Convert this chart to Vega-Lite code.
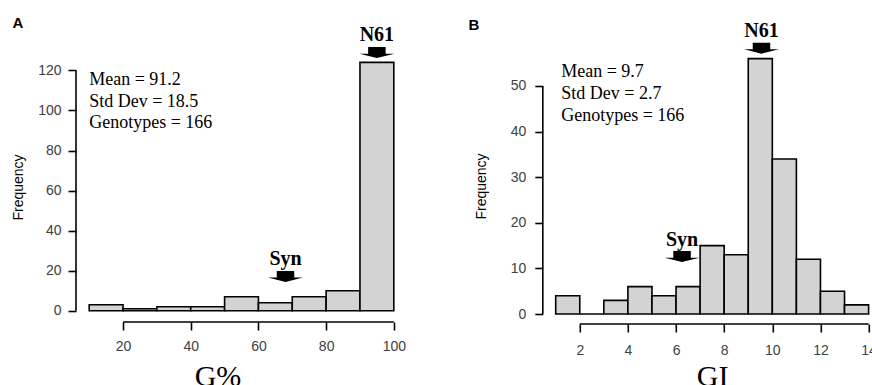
{
  "$schema": "https://vega.github.io/schema/vega-lite/v6.json",
  "background": "white",
  "padding": {"left": 11, "top": 16, "right": 0, "bottom": 0},
  "bounds": "flush",
  "spacing": 136.8,
  "config": {
    "view": {"stroke": null},
    "axis": {
      "domain": false, "grid": false, "tickSize": 8, "tickWidth": 1.6, "tickColor": "black",
      "labelFont": "Liberation Sans", "labelFontSize": 14, "labelColor": "#404040",
      "labelOverlap": false, "labelFlush": false
    }
  },
  "datasets": {
    "histA": [
      {"bin_start": 10, "bin_end": 20, "count": 3},
      {"bin_start": 20, "bin_end": 30, "count": 1},
      {"bin_start": 30, "bin_end": 40, "count": 2},
      {"bin_start": 40, "bin_end": 50, "count": 2},
      {"bin_start": 50, "bin_end": 60, "count": 7},
      {"bin_start": 60, "bin_end": 70, "count": 4},
      {"bin_start": 70, "bin_end": 80, "count": 7},
      {"bin_start": 80, "bin_end": 90, "count": 10},
      {"bin_start": 90, "bin_end": 100, "count": 124}
    ],
    "histB": [
      {"bin_start": 1, "bin_end": 2, "count": 4},
      {"bin_start": 2, "bin_end": 3, "count": 0},
      {"bin_start": 3, "bin_end": 4, "count": 3},
      {"bin_start": 4, "bin_end": 5, "count": 6},
      {"bin_start": 5, "bin_end": 6, "count": 4},
      {"bin_start": 6, "bin_end": 7, "count": 6},
      {"bin_start": 7, "bin_end": 8, "count": 15},
      {"bin_start": 8, "bin_end": 9, "count": 13},
      {"bin_start": 9, "bin_end": 10, "count": 56},
      {"bin_start": 10, "bin_end": 11, "count": 34},
      {"bin_start": 11, "bin_end": 12, "count": 12},
      {"bin_start": 12, "bin_end": 13, "count": 5},
      {"bin_start": 13, "bin_end": 14, "count": 2}
    ],
    "annoA": [
      {"label": "N61", "x": 95, "ty": 134.8, "ay": 128.9},
      {"label": "Syn", "x": 68, "ty": 22.8, "ay": 17.1}
    ],
    "annoB": [
      {"label": "N61", "x": 9.55, "ty": 60.8, "ay": 58.3},
      {"label": "Syn", "x": 6.25, "ty": 14.9, "ay": 12.6}
    ],
    "statsA": [{"label": "Mean = 91.2\nStd Dev = 18.5\nGenotypes = 166"}],
    "statsB": [{"label": "Mean = 9.7\nStd Dev = 2.7\nGenotypes = 166"}]
  },
  "hconcat": [
    {
      "width": 330,
      "height": 274,
      "title": {"text": "A", "anchor": "start", "frame": "group", "dx": -63.5, "offset": -18.5, "baseline": "alphabetic", "font": "Liberation Sans", "fontSize": 15, "fontWeight": "bold", "color": "black"},
      "layer": [
        {
          "data": {"name": "histA"},
          "mark": {"type": "bar", "fill": "#d3d3d3", "stroke": "black", "strokeWidth": 1.6},
          "encoding": {
            "x": {"field": "bin_start", "type": "quantitative",
              "scale": {"domain": [6.1, 103.6], "nice": false, "zero": false},
              "axis": {"values": [20, 40, 60, 80, 100], "labelPadding": 9, "title": "G%",
                "titleFont": "Liberation Serif", "titleFontSize": 30, "titleFontWeight": "normal", "titleColor": "black",
                "titleX": 141.5, "titleY": 63, "titleAlign": "center", "titleBaseline": "alphabetic"}},
            "x2": {"field": "bin_end"},
            "y": {"field": "count", "type": "quantitative",
              "scale": {"domain": [-5.64, 131.2], "nice": false, "zero": false},
              "axis": {"values": [0, 20, 40, 60, 80, 100, 120], "labelPadding": 7, "title": "Frequency",
                "titleFont": "Liberation Sans", "titleFontSize": 14, "titleFontWeight": "normal", "titleColor": "black",
                "titleX": -54, "titleY": 139, "titleAlign": "center", "titleBaseline": "alphabetic"}},
            "y2": {"datum": 0}
          }
        },
        {
          "data": {"values": [{}]},
          "mark": {"type": "rule", "stroke": "black", "strokeWidth": 1.6},
          "encoding": {"x": {"datum": 6.1, "type": "quantitative"}, "y": {"datum": 0, "type": "quantitative"}, "y2": {"datum": 120}}
        },
        {
          "data": {"values": [{}]},
          "mark": {"type": "rule", "stroke": "black", "strokeWidth": 1.6},
          "encoding": {"x": {"datum": 20, "type": "quantitative"}, "x2": {"datum": 100}, "y": {"datum": -5.64, "type": "quantitative"}}
        },
        {
          "data": {"name": "statsA"},
          "mark": {"type": "text", "align": "left", "baseline": "alphabetic", "lineBreak": "\n", "lineHeight": 21.7, "font": "Liberation Serif", "fontSize": 18, "color": "black"},
          "encoding": {"text": {"field": "label"}, "x": {"datum": 10, "type": "quantitative"}, "y": {"datum": 112.7, "type": "quantitative"}}
        },
        {
          "data": {"name": "annoA"},
          "mark": {"type": "point", "shape": "M-0.5,-0.314 L0.5,-0.314 L0.5,0.063 L1,0.063 L0,0.314 L-1,0.063 L-0.5,0.063 Z", "size": 1225, "filled": true, "fill": "black", "stroke": null, "opacity": 1},
          "encoding": {"x": {"field": "x", "type": "quantitative"}, "y": {"field": "ay", "type": "quantitative"}}
        },
        {
          "data": {"name": "annoA"},
          "mark": {"type": "text", "align": "center", "baseline": "alphabetic", "font": "Liberation Serif", "fontSize": 20, "fontWeight": "bold", "color": "black"},
          "encoding": {"text": {"field": "label"}, "x": {"field": "x", "type": "quantitative"}, "y": {"field": "ty", "type": "quantitative"}}
        }
      ]
    },
    {
      "width": 338.7,
      "height": 276,
      "title": {"text": "B", "anchor": "start", "frame": "group", "dx": -74.3, "offset": -24.5, "baseline": "alphabetic", "font": "Liberation Sans", "fontSize": 15, "fontWeight": "bold", "color": "black"},
      "layer": [
        {
          "data": {"name": "histB"},
          "mark": {"type": "bar", "fill": "#d3d3d3", "stroke": "black", "strokeWidth": 1.6},
          "encoding": {
            "x": {"field": "bin_start", "type": "quantitative",
              "scale": {"domain": [0.464, 14.536], "nice": false, "zero": false},
              "axis": {"values": [2, 4, 6, 8, 10, 12, 14], "labelPadding": 11, "title": "GI",
                "titleFont": "Liberation Serif", "titleFontSize": 30, "titleFontWeight": "normal", "titleColor": "black",
                "titleX": 169.4, "titleY": 61, "titleAlign": "center", "titleBaseline": "alphabetic"}},
            "x2": {"field": "bin_end"},
            "y": {"field": "count", "type": "quantitative",
              "scale": {"domain": [-2.19, 58.33], "nice": false, "zero": false},
              "axis": {"values": [0, 10, 20, 30, 40, 50], "labelPadding": 9, "title": "Frequency",
                "titleFont": "Liberation Sans", "titleFontSize": 14, "titleFontWeight": "normal", "titleColor": "black",
                "titleX": -57.3, "titleY": 138, "titleAlign": "center", "titleBaseline": "alphabetic"}},
            "y2": {"datum": 0}
          }
        },
        {
          "data": {"values": [{}]},
          "mark": {"type": "rule", "stroke": "black", "strokeWidth": 1.6},
          "encoding": {"x": {"datum": 0.464, "type": "quantitative"}, "y": {"datum": 0, "type": "quantitative"}, "y2": {"datum": 50}}
        },
        {
          "data": {"values": [{}]},
          "mark": {"type": "rule", "stroke": "black", "strokeWidth": 1.6},
          "encoding": {"x": {"datum": 2, "type": "quantitative"}, "x2": {"datum": 14}, "y": {"datum": -2.19, "type": "quantitative"}}
        },
        {
          "data": {"name": "statsB"},
          "mark": {"type": "text", "align": "left", "baseline": "alphabetic", "lineBreak": "\n", "lineHeight": 22, "font": "Liberation Serif", "fontSize": 18, "color": "black"},
          "encoding": {"text": {"field": "label"}, "x": {"datum": 1.23, "type": "quantitative"}, "y": {"datum": 51.9, "type": "quantitative"}}
        },
        {
          "data": {"name": "annoB"},
          "mark": {"type": "point", "shape": "M-0.5,-0.314 L0.5,-0.314 L0.5,0.063 L1,0.063 L0,0.314 L-1,0.063 L-0.5,0.063 Z", "size": 1225, "filled": true, "fill": "black", "stroke": null, "opacity": 1},
          "encoding": {"x": {"field": "x", "type": "quantitative"}, "y": {"field": "ay", "type": "quantitative"}}
        },
        {
          "data": {"name": "annoB"},
          "mark": {"type": "text", "align": "center", "baseline": "alphabetic", "font": "Liberation Serif", "fontSize": 20, "fontWeight": "bold", "color": "black"},
          "encoding": {"text": {"field": "label"}, "x": {"field": "x", "type": "quantitative"}, "y": {"field": "ty", "type": "quantitative"}}
        }
      ]
    }
  ]
}
